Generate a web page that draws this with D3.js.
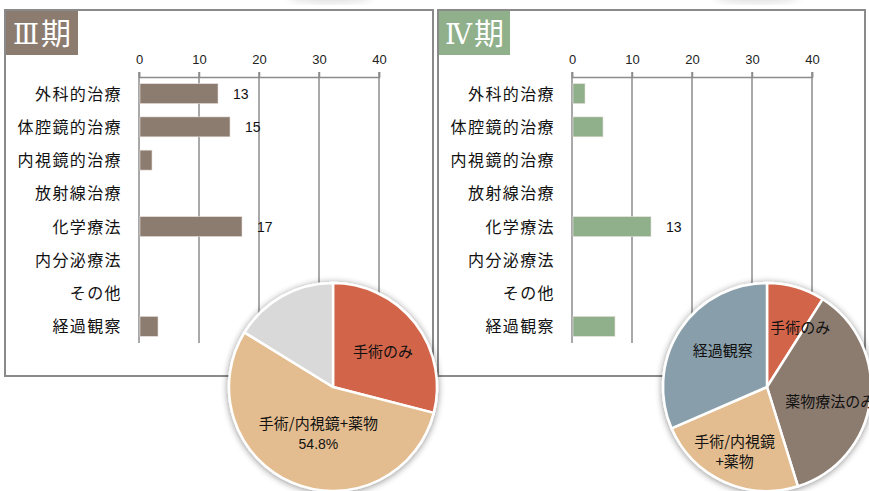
<!DOCTYPE html>
<html>
<head>
<meta charset="utf-8">
<script src="https://cdn.jsdelivr.net/npm/d3@7"></script>
<style>
  html, body { margin: 0; padding: 0; background: #fff; }
  svg { display: block; font-family: "Noto Sans CJK JP", "Noto Sans", sans-serif; }
</style>
</head>
<body>
<svg id="chart" width="869" height="491"></svg>
<script>
// Treatment categories (shared by both stages)
const categories = ["外科的治療", "体腔鏡的治療", "内視鏡的治療", "放射線治療", "化学療法", "内分泌療法", "その他", "経過観察"];
// Patient counts per treatment
const stage3Values = [13, 15, 2, 0, 17, 0, 0, 3];
const stage4Values = [2, 5, 0, 0, 13, 0, 0, 7];
// Axis ticks
const tickValues = [0, 10, 20, 30, 40];
// Treatment combination shares (%)
const stage3PieLabels = ["手術のみ", "手術/内視鏡+薬物\n54.8%", ""];
const stage3PieValues = [29.0, 54.8, 16.2];
const stage4PieLabels = ["手術のみ", "薬物療法のみ", "手術/内視鏡\n+薬物", "経過観察"];
const stage4PieValues = [9.0, 36.2, 23.3, 31.5];

const svg = d3.select("#chart");
const defs = svg.append("defs");
const shadow = defs.append("filter").attr("id", "pieShadow")
  .attr("x", "-20%").attr("y", "-20%").attr("width", "140%").attr("height", "140%");
shadow.append("feGaussianBlur").attr("in", "SourceAlpha").attr("stdDeviation", 3.5).attr("result", "b");
shadow.append("feOffset").attr("in", "b").attr("dx", 0).attr("dy", 1).attr("result", "o");
shadow.append("feComponentTransfer").attr("in", "o").attr("result", "s")
  .append("feFuncA").attr("type", "linear").attr("slope", 0.45);
const merge = shadow.append("feMerge");
merge.append("feMergeNode").attr("in", "s");
merge.append("feMergeNode").attr("in", "SourceGraphic");

const soft = defs.append("filter").attr("id", "soft");
soft.append("feGaussianBlur").attr("stdDeviation", 4);

// faint shadows of the pies sitting above this row
[[330, -4], [757, -4]].forEach(([cx, cy]) => {
  svg.append("ellipse").attr("cx", cx).attr("cy", cy).attr("rx", 42).attr("ry", 7)
    .attr("fill", "#000").attr("opacity", 0.12).attr("filter", "url(#soft)");
});

const panelTop = 10, panelBottom = 376;

function drawPanel(cfg) {
  const g = svg.append("g");
  // panel frame
  g.append("rect").attr("x", cfg.x0).attr("y", panelTop)
    .attr("width", cfg.x1 - cfg.x0).attr("height", panelBottom - panelTop)
    .attr("fill", "#fff").attr("stroke", "#8a8a8a").attr("stroke-width", 2);
  // title badge
  g.append("rect").attr("x", cfg.x0 + 1).attr("y", panelTop + 1)
    .attr("width", cfg.badgeW).attr("height", 44).attr("fill", cfg.color);
  const title = g.append("text").attr("x", cfg.x0 + 1 + cfg.badgeW / 2).attr("y", panelTop + 34)
    .attr("text-anchor", "middle").attr("fill", "#fff").attr("font-size", 30);
  title.append("tspan").attr("font-family", "'DejaVu Serif', 'Liberation Serif', serif")
    .attr("font-size", 27).text(cfg.numeral);
  title.append("tspan").attr("dx", 2).text("期");

  const x = d3.scaleLinear().domain([0, 40]).range([cfg.axisX0, cfg.axisX0 + 240]);
  const y = d3.scaleBand().domain(categories).range([77, 343]).paddingInner(0.4).paddingOuter(0.2);

  // gridlines
  g.append("g").selectAll("line").data(tickValues).join("line")
    .attr("x1", d => x(d)).attr("x2", d => x(d))
    .attr("y1", 72).attr("y2", 343)
    .attr("stroke", "#8c8c8c").attr("stroke-width", 1.5);

  // top axis
  const axis = g.append("g").attr("transform", "translate(0,77)")
    .call(d3.axisTop(x).tickValues(tickValues).tickSize(5).tickPadding(8));
  axis.select(".domain").attr("stroke", "#8c8c8c").attr("stroke-width", 1.5);
  axis.selectAll(".tick line").attr("stroke", "#8c8c8c").attr("stroke-width", 1.5);
  axis.selectAll(".tick text").attr("font-size", 13).attr("fill", "#222")
    .attr("font-family", "'Liberation Sans', 'Noto Sans', sans-serif");

  const rows = cfg.values.map((v, i) => ({ v, cat: categories[i] }));

  // bars
  g.append("g").selectAll("rect").data(rows.filter(d => d.v > 0)).join("rect")
    .attr("x", x(0) + 1)
    .attr("y", d => y(d.cat))
    .attr("width", d => x(d.v) - x(0))
    .attr("height", y.bandwidth())
    .attr("fill", cfg.color).attr("stroke", "#e8e2dc").attr("stroke-width", 0.6);

  // value labels for the larger bars
  g.append("g").selectAll("text").data(rows.filter(d => d.v >= 10)).join("text")
    .attr("x", d => x(d.v) + 16)
    .attr("y", d => y(d.cat) + y.bandwidth() / 2 + 5)
    .attr("font-size", 14).attr("fill", "#111")
    .attr("font-family", "'Liberation Sans', 'Noto Sans', sans-serif")
    .text(d => d.v);

  // category labels
  g.append("g").selectAll("text").data(categories).join("text")
    .attr("x", cfg.axisX0 - 17)
    .attr("y", d => y(d) + y.bandwidth() / 2 + 6)
    .attr("text-anchor", "end").attr("font-size", 16).attr("letter-spacing", 1.4)
    .attr("fill", "#111")
    .text(d => d);
}

drawPanel({ x0: 5, x1: 433, badgeW: 72, color: "#8c7b6f", numeral: "Ⅲ", axisX0: 139, values: stage3Values });
drawPanel({ x0: 438, x1: 865, badgeW: 71, color: "#8fb08b", numeral: "Ⅳ", axisX0: 572, values: stage4Values });

function drawPie(cfg) {
  const R = 104;
  const g = svg.append("g").attr("transform", `translate(${cfg.cx},${cfg.cy})`);
  const pie = d3.pie().sort(null).value(d => d.v);
  const arcs = pie(cfg.values.map((v, i) => ({ v, label: cfg.labels[i], color: cfg.colors[i] })));
  const arc = d3.arc().innerRadius(0).outerRadius(R);
  const slices = g.append("g").attr("filter", "url(#pieShadow)");
  slices.selectAll("path").data(arcs).join("path")
    .attr("d", arc).attr("fill", d => d.data.color)
    .attr("stroke", "#fff").attr("stroke-width", 2.5).attr("stroke-linejoin", "round");

  arcs.forEach((d, i) => {
    if (!d.data.label) return;
    const mid = (d.startAngle + d.endAngle) / 2 + cfg.angleShift[i];
    const r = cfg.labelR[i];
    const lx = Math.sin(mid) * r, ly = -Math.cos(mid) * r;
    const lines = d.data.label.split("\n");
    const t = g.append("text").attr("text-anchor", "middle").attr("font-size", 15).attr("fill", "#111");
    lines.forEach((ln, k) => {
      const numeric = /^[0-9.%]+$/.test(ln);
      t.append("tspan").attr("x", lx)
        .attr("y", ly + 5 + (k - (lines.length - 1) / 2) * 20)
        .attr("font-family", numeric ? "'Liberation Sans', sans-serif" : null)
        .attr("font-size", numeric ? 14 : 15)
        .text(ln);
    });
  });
}

drawPie({
  cx: 333, cy: 387, values: stage3PieValues, labels: stage3PieLabels,
  colors: ["#d2654a", "#e3bd8f", "#d9d9d9"],
  labelR: [61, 49, 0], angleShift: [0.05, -0.1, 0]
});
drawPie({
  cx: 767, cy: 387, values: stage4PieValues, labels: stage4PieLabels,
  colors: ["#d2654a", "#8c7b6f", "#e3bd8f", "#889fab"],
  labelR: [68, 65, 73, 57], angleShift: [0.23, 0.1, 0.03, 0.1]
});
</script>
</body>
</html>
